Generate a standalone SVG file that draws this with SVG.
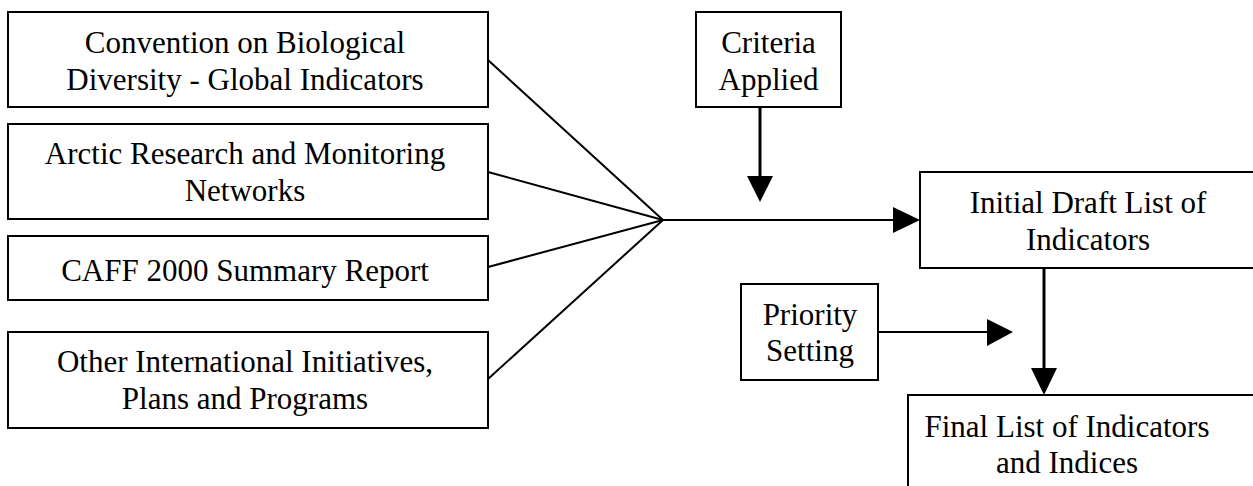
<svg xmlns="http://www.w3.org/2000/svg" width="1253" height="486" viewBox="0 0 1253 486">
<style>
.box{fill:#fff;stroke:#000;stroke-width:2}
.t{font-family:"Liberation Serif","Times New Roman",serif;font-size:31px;fill:#000;text-anchor:middle}
.c{stroke:#000;stroke-width:2;fill:none}
.ck{stroke:#000;stroke-width:3;fill:none}
.ah{fill:#000;stroke:none}
</style>
<rect width="1253" height="486" fill="#fff"/>
<g id="cbd">
<rect class="box" x="8" y="12" width="480" height="95"/>
<text class="t" x="245" y="53">Convention on Biological</text>
<text class="t" x="245" y="90">Diversity - Global Indicators</text>
</g>
<g id="arctic">
<rect class="box" x="8" y="124" width="480" height="95"/>
<text class="t" x="245" y="164">Arctic Research and Monitoring</text>
<text class="t" x="245" y="201">Networks</text>
</g>
<g id="caff">
<rect class="box" x="8" y="236" width="480" height="64"/>
<text class="t" x="245" y="281">CAFF 2000 Summary Report</text>
</g>
<g id="other">
<rect class="box" x="8" y="332" width="480" height="96"/>
<text class="t" x="245" y="372">Other International Initiatives,</text>
<text class="t" x="245" y="409">Plans and Programs</text>
</g>
<g id="criteria">
<rect class="box" x="696" y="12" width="145" height="95"/>
<text class="t" x="768.5" y="53">Criteria</text>
<text class="t" x="768.5" y="90">Applied</text>
</g>
<g id="initial">
<rect class="box" x="920" y="172" width="340" height="96"/>
<text class="t" x="1088" y="213">Initial Draft List of</text>
<text class="t" x="1088" y="250">Indicators</text>
</g>
<g id="priority">
<rect class="box" x="741" y="284" width="137" height="96"/>
<text class="t" x="810" y="325">Priority</text>
<text class="t" x="810" y="361">Setting</text>
</g>
<g id="final">
<rect class="box" x="908" y="395" width="360" height="100"/>
<text class="t" x="1067" y="437">Final List of Indicators</text>
<text class="t" x="1067" y="473">and Indices</text>
</g>
<g id="connectors">
<line class="c" x1="488" y1="60" x2="663" y2="220"/>
<line class="c" x1="488" y1="172" x2="663" y2="220"/>
<line class="c" x1="488" y1="267" x2="663" y2="220"/>
<line class="c" x1="488" y1="379" x2="663" y2="220"/>
<line class="c" x1="663" y1="220" x2="895" y2="220"/>
<polygon class="ah" points="893,207 920,220 893,233"/>
<line class="ck" x1="760" y1="107" x2="760" y2="178"/>
<polygon class="ah" points="747,176 773,176 760,202"/>
<line class="c" x1="878" y1="332" x2="989" y2="332"/>
<polygon class="ah" points="987,319 1013,332 987,346"/>
<line class="ck" x1="1044" y1="268" x2="1044" y2="370"/>
<polygon class="ah" points="1031,368 1057,368 1044,395"/>
</g>
</svg>
